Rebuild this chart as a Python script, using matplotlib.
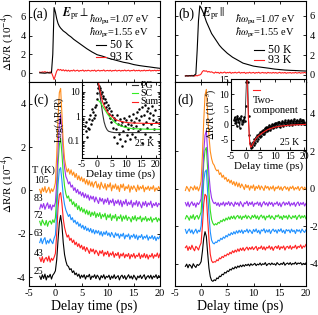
import numpy as np
import matplotlib
matplotlib.use("Agg")
import matplotlib.pyplot as plt
from matplotlib.ticker import NullFormatter

plt.rcParams["font.family"] = "serif"
plt.rcParams["font.serif"] = ["Liberation Serif", "DejaVu Serif"]
plt.rcParams["mathtext.fontset"] = "stix"
plt.rcParams["font.size"] = 7.5
plt.rcParams["axes.unicode_minus"] = False
plt.rcParams["axes.linewidth"] = 0.8
for ax_name in ["xtick", "ytick"]:
    plt.rcParams[ax_name + ".direction"] = "in"
    plt.rcParams[ax_name + ".major.size"] = 2.5
    plt.rcParams[ax_name + ".minor.size"] = 1.5
    plt.rcParams[ax_name + ".major.width"] = 0.6
    plt.rcParams[ax_name + ".labelsize"] = 7.5
    plt.rcParams[ax_name + ".major.pad"] = 2.5
plt.rcParams["xtick.top"] = True
plt.rcParams["ytick.right"] = True

# ---- data ----------------------------------------------------------------
# delay grid of the raw traces, -3 ps .. 20 ps in 0.25 ps steps
t_grid = np.arange(-3.0, 20.001, 0.25)

# (a)/(b) 50 K curves (smooth) on their own delay points
t_50k = [-3, -2, -1.5, -1, -0.75, -0.5, -0.25, 0, 0.25, 0.5, 0.75, 1, 1.5, 2, 2.5, 3,
         3.5, 4, 5, 6, 7, 8, 9, 10, 11, 12, 13, 14, 15, 16, 17, 18, 19, 20]
perp_50k = [0.02, -0.02, 0.03, 0.0, 0.05, 2.0, 7.0, 6.5, 5.8, 5.3, 5.0, 4.8, 4.5, 4.3, 4.05, 3.85,
            3.6, 3.4, 3.0, 2.6, 2.25, 1.95, 1.8, 1.6, 1.45, 1.3, 1.15, 1.05, 0.9, 0.8, 0.72, 0.65, 0.57, 0.5]
par_50k = [-0.1, -0.08, -0.1, 0.1, 2.5, 5.5, 7.0, 6.8, 6.5, 6.2, 5.8, 5.4, 4.8, 4.2, 3.8, 3.4,
           3.0, 2.7, 2.2, 1.8, 1.5, 1.2, 1.05, 0.9, 0.82, 0.75, 0.68, 0.6, 0.55, 0.5, 0.47, 0.45, 0.42, 0.4]

perp_93k = [0.1, 0.05, 0.12, 0.08, 0.15, 0.06, 0.1, 0.02, 0.12, 0.05, -0.3, -0.7,
            -0.25, 0.2, 0.4, 0.3, 0.38, 0.25, 0.35, 0.22, 0.32,
            0.2, 0.3, 0.18, 0.28, 0.22, 0.33, 0.2, 0.26, 0.3, 0.18,
            0.27, 0.24, 0.32, 0.19, 0.28, 0.22, 0.3, 0.25, 0.2, 0.29,
            0.23, 0.31, 0.18, 0.26, 0.3, 0.21, 0.27, 0.24, 0.33, 0.2,
            0.25, 0.28, 0.22, 0.3, 0.19, 0.27, 0.24, 0.31, 0.21, 0.26,
            0.29, 0.2, 0.28, 0.23, 0.32, 0.22, 0.26, 0.3, 0.2, 0.27,
            0.25, 0.33, 0.21, 0.28, 0.24, 0.3, 0.2, 0.27, 0.23, 0.31,
            0.22, 0.28, 0.25, 0.32, 0.21, 0.27, 0.24, 0.3, 0.22, 0.29,
            0.25, 0.3]
par_93k = [-0.1, -0.05, -0.12, -0.06, -0.1, -0.03, -0.08, -0.12, -0.04, -0.09, -0.02, 0.0,
           0.1, 0.35, 0.45, 0.38, 0.42, 0.3, 0.36, 0.28, 0.32,
           0.25, 0.18, 0.3, 0.22, 0.27, 0.16, 0.28, 0.2, 0.24, 0.3,
           0.19, 0.26, 0.22, 0.29, 0.17, 0.25, 0.21, 0.28, 0.2, 0.24,
           0.3, 0.18, 0.25, 0.22, 0.27, 0.16, 0.24, 0.2, 0.28, 0.19,
           0.23, 0.26, 0.17, 0.25, 0.21, 0.28, 0.18, 0.22, 0.26, 0.2,
           0.24, 0.17, 0.27, 0.21, 0.23, 0.19, 0.26, 0.2, 0.25, 0.18,
           0.22, 0.27, 0.19, 0.24, 0.2, 0.26, 0.17, 0.23, 0.21, 0.25,
           0.18, 0.24, 0.2, 0.27, 0.19, 0.22, 0.25, 0.18, 0.23, 0.21,
           0.26, 0.2]

temps = ["105", "83", "72", "63", "43", "25"]
colors = ["#ff8c1a", "#9933ee", "#33dd22", "#1e90ff", "#ff2020", "#000000"]
offsets_c = [0.0, -0.75, -1.5, -2.35, -3.2, -4.0]
offsets_d = [0.0, -0.85, -1.55, -2.3, -3.2, -4.15]

# (c) E_pr perpendicular, traces relative to their own offset
c_105 = [0.05, -0.15, 0.12, -0.05, 0.18, -0.1, 0.02, 0.15, -0.12, 0.08, -0.05, 0.1,
         0.35, 1.6, 3.3, 4.5, 4.7, 3.5, 2.2, 1.45, 1.1, 0.85, 1.0, 0.75, 0.95, 0.7, 0.85, 0.6,
         0.78, 0.5, 0.68, 0.45, 0.62, 0.4, 0.55, 0.3, 0.5, 0.25, 0.45, 0.2, 0.4, 0.15, 0.35, 0.42,
         0.12, 0.3, 0.05, 0.38, 0.2, 0.1, 0.32, 0.02, 0.28, 0.15, 0.35, -0.02, 0.25, 0.1, 0.3, 0.05,
         0.22, -0.05, 0.28, 0.12, 0.3, 0.0, 0.18, 0.08, 0.26, -0.08, 0.2, 0.05, 0.22, 0.1, -0.05, 0.25,
         0.02, 0.18, 0.08, 0.24, -0.06, 0.15, 0.05, 0.2, 0.0, 0.16, 0.06, 0.22, -0.04, 0.12, 0.02, 0.18,
         0.05]
c_83 = [-0.1, 0.12, -0.05, 0.15, -0.12, 0.05, 0.18, -0.08, 0.1, -0.15, 0.08, 0.0,
        0.2, 1.1, 2.6, 3.8, 4.25, 3.6, 2.5, 1.8, 1.4, 1.25, 1.05, 1.15, 0.9, 1.0, 0.75, 0.88,
        0.65, 0.8, 0.58, 0.7, 0.5, 0.66, 0.42, 0.6, 0.4, 0.55, 0.3, 0.5, 0.35, 0.48, 0.22, 0.45,
        0.3, 0.15, 0.42, 0.25, 0.38, 0.12, 0.35, 0.2, 0.4, 0.1, 0.3, 0.18, 0.36, 0.05, 0.28, 0.15,
        0.32, 0.08, 0.3, 0.0, 0.25, 0.12, 0.34, 0.05, 0.22, 0.1, 0.3, -0.02, 0.2, 0.08, 0.28, 0.02,
        0.24, 0.1, -0.05, 0.22, 0.06, 0.25, 0.0, 0.18, 0.08, 0.26, -0.04, 0.15, 0.05, 0.2, 0.0, 0.16,
        0.1]
c_72 = [0.08, -0.12, 0.15, 0.0, -0.1, 0.12, -0.15, 0.05, 0.1, -0.05, 0.15, 0.02,
        0.25, 1.2, 2.7, 3.6, 3.9, 3.2, 2.3, 1.7, 1.35, 1.15, 1.25, 1.0, 1.1, 0.85, 0.98, 0.75,
        0.9, 0.62, 0.8, 0.55, 0.72, 0.5, 0.65, 0.42, 0.6, 0.38, 0.55, 0.3, 0.5, 0.35, 0.52, 0.25,
        0.45, 0.3, 0.48, 0.2, 0.4, 0.28, 0.45, 0.15, 0.38, 0.25, 0.42, 0.12, 0.35, 0.22, 0.4, 0.1,
        0.3, 0.2, 0.38, 0.08, 0.32, 0.18, 0.36, 0.12, 0.28, 0.22, 0.05, 0.3, 0.15, 0.34, 0.1, 0.26,
        0.18, 0.32, 0.06, 0.24, 0.14, 0.3, 0.08, 0.22, 0.12, 0.28, 0.04, 0.2, 0.16, 0.26, 0.06, 0.22,
        0.12]
c_63 = [-0.05, 0.15, -0.1, 0.08, 0.18, -0.12, 0.05, -0.08, 0.12, 0.0, -0.1, 0.15,
        0.3, 1.3, 2.6, 3.3, 3.4, 2.8, 2.1, 1.7, 1.45, 1.3, 1.15, 1.25, 1.0, 1.1, 0.88, 0.98,
        0.8, 0.9, 0.7, 0.82, 0.62, 0.75, 0.55, 0.7, 0.5, 0.62, 0.45, 0.6, 0.4, 0.55, 0.35, 0.52,
        0.38, 0.5, 0.3, 0.46, 0.25, 0.44, 0.32, 0.48, 0.28, 0.4, 0.22, 0.42, 0.3, 0.18, 0.4, 0.26,
        0.36, 0.15, 0.34, 0.24, 0.38, 0.12, 0.3, 0.22, 0.35, 0.1, 0.28, 0.2, 0.34, 0.14, 0.3, 0.08,
        0.26, 0.18, 0.32, 0.1, 0.24, 0.16, 0.3, 0.06, 0.22, 0.14, 0.28, 0.1, 0.24, 0.04, 0.2, 0.12,
        0.26]
c_43 = [0.1, -0.08, 0.15, -0.12, 0.05, 0.12, -0.05, 0.18, -0.1, 0.08, -0.02, 0.12,
        0.3, 1.2, 2.4, 3.0, 3.1, 2.6, 1.9, 1.5, 1.25, 1.05, 1.15, 0.9, 1.0, 0.8, 0.92, 0.7,
        0.82, 0.62, 0.75, 0.55, 0.68, 0.48, 0.62, 0.4, 0.58, 0.45, 0.3, 0.52, 0.38, 0.5, 0.28, 0.45,
        0.35, 0.2, 0.42, 0.3, 0.44, 0.18, 0.36, 0.25, 0.4, 0.15, 0.32, 0.22, 0.38, 0.12, 0.3, 0.2,
        0.35, 0.08, 0.28, 0.18, 0.32, 0.1, 0.26, 0.16, 0.3, 0.05, 0.25, 0.14, 0.3, 0.08, 0.22, 0.16,
        0.32, 0.06, 0.24, 0.12, 0.3, 0.1, 0.26, 0.04, 0.22, 0.14, 0.3, 0.08, 0.24, 0.16, 0.32, 0.1,
        0.28]
c_25 = [0.05, -0.1, 0.12, -0.05, 0.15, -0.12, 0.08, 0.0, 0.14, -0.08, 0.1, 0.18,
        0.3, 0.8, 1.7, 2.5, 2.85, 2.4, 1.6, 1.05, 0.75, 0.55, 0.5, 0.35, 0.4, 0.22, 0.3, 0.12,
        0.2, 0.05, 0.15, -0.05, 0.1, 0.0, 0.12, -0.08, 0.08, 0.02, 0.14, -0.1, 0.06, 0.0, 0.12, -0.06,
        0.1, 0.02, -0.12, 0.08, -0.02, 0.12, -0.08, 0.05, 0.0, 0.1, -0.1, 0.06, -0.04, 0.12, -0.06, 0.02,
        0.08, -0.12, 0.04, 0.1, -0.05, 0.08, -0.1, 0.02, 0.12, -0.04, 0.06, -0.08, 0.1, 0.0, -0.12, 0.06,
        -0.02, 0.1, -0.06, 0.04, 0.12, -0.1, 0.02, 0.08, -0.04, 0.1, -0.08, 0.06, 0.0, 0.12, -0.06, 0.08,
        0.02]

# (d) E_pr parallel
d_105 = [-0.1, 0.12, 0.0, -0.15, 0.1, 0.05, -0.08, 0.15, -0.05, 0.1, -0.12, 0.08,
         0.4, 1.8, 3.6, 5.0, 5.3, 4.0, 2.8, 2.0, 1.6, 1.35, 1.25, 1.05, 0.95, 1.0, 0.75, 0.85,
         0.6, 0.72, 0.5, 0.6, 0.38, 0.5, 0.3, 0.45, 0.22, 0.38, 0.15, 0.35, 0.1, 0.3, 0.05, 0.25,
         0.12, -0.05, 0.22, 0.05, 0.18, -0.08, 0.15, 0.02, 0.2, -0.1, 0.12, 0.0, 0.18, -0.06, 0.14, 0.04,
         -0.1, 0.16, 0.02, 0.12, -0.08, 0.1, -0.02, 0.15, -0.12, 0.08, 0.0, 0.14, -0.06, 0.1, -0.1, 0.06,
         0.12, -0.04, 0.08, -0.12, 0.1, 0.0, 0.14, -0.08, 0.06, -0.02, 0.12, -0.1, 0.04, 0.1, -0.06, 0.08,
         -0.02]
d_83 = [0.1, -0.08, 0.14, -0.12, 0.05, 0.15, -0.05, 0.08, -0.14, 0.1, 0.0, 0.12,
        0.3, 1.3, 2.8, 3.7, 3.95, 2.8, 1.6, 0.8, 0.35, 0.15, 0.05, 0.12, -0.05, 0.1, -0.1, 0.08,
        -0.02, 0.14, -0.08, 0.1, 0.0, 0.16, -0.06, 0.12, 0.02, -0.1, 0.14, 0.0, 0.1, -0.08, 0.16, 0.02,
        -0.12, 0.1, 0.04, 0.18, -0.06, 0.12, 0.0, 0.15, -0.1, 0.08, 0.02, 0.14, -0.05, 0.12, -0.12, 0.06,
        0.16, -0.02, 0.1, -0.08, 0.14, 0.0, 0.12, -0.1, 0.08, 0.02, 0.15, -0.06, 0.1, -0.12, 0.06, 0.14,
        -0.04, 0.1, 0.0, 0.16, -0.08, 0.08, -0.02, 0.12, -0.1, 0.06, 0.14, -0.06, 0.1, 0.0, 0.12, -0.08,
        0.06]
d_72 = [-0.06, 0.12, 0.02, -0.14, 0.1, -0.04, 0.16, -0.1, 0.06, 0.12, -0.08, 0.1,
        0.3, 1.4, 2.9, 3.6, 3.75, 2.6, 1.3, 0.4, -0.1, -0.3, -0.4, -0.32, -0.38, -0.25, -0.3, -0.15,
        -0.22, -0.08, -0.18, -0.02, -0.12, 0.04, -0.1, 0.08, -0.05, 0.1, -0.08, 0.06, 0.12, -0.04, 0.1, -0.1,
        0.08, 0.0, 0.14, -0.06, 0.1, 0.02, -0.08, 0.12, 0.0, 0.15, -0.05, 0.1, -0.1, 0.06, 0.14, -0.02,
        0.1, -0.12, 0.08, 0.02, 0.14, -0.06, 0.1, 0.0, -0.1, 0.12, 0.04, 0.15, -0.04, 0.08, -0.1, 0.12,
        0.0, 0.1, -0.08, 0.14, 0.02, -0.06, 0.1, 0.0, 0.12, -0.1, 0.06, 0.14, -0.04, 0.1, 0.0, 0.12,
        -0.06]
d_63 = [0.12, -0.1, 0.05, 0.15, -0.06, 0.1, -0.12, 0.02, 0.14, -0.08, 0.08, 0.0,
        0.3, 1.3, 2.7, 3.2, 3.3, 2.1, 0.9, 0.0, -0.45, -0.6, -0.65, -0.55, -0.58, -0.45, -0.5, -0.35,
        -0.42, -0.28, -0.35, -0.2, -0.28, -0.12, -0.2, -0.05, -0.15, 0.0, -0.12, 0.05, -0.08, 0.08, -0.05, 0.1,
        -0.1, 0.06, 0.0, 0.14, -0.06, 0.1, 0.02, -0.1, 0.12, 0.0, 0.15, -0.05, 0.08, -0.12, 0.1, 0.04,
        0.16, -0.06, 0.1, -0.02, 0.12, -0.1, 0.06, 0.14, 0.0, 0.1, -0.08, 0.12, 0.02, 0.16, -0.04, 0.08,
        -0.1, 0.12, 0.04, 0.1, -0.06, 0.14, 0.0, 0.08, -0.1, 0.12, 0.02, 0.1, -0.06, 0.14, 0.04, -0.04,
        0.1]
d_43 = [0.05, 0.15, -0.1, 0.1, -0.05, 0.18, 0.0, -0.12, 0.12, 0.04, -0.08, 0.14,
        0.3, 1.2, 2.4, 2.9, 2.8, 1.6, 0.5, -0.3, -0.65, -0.75, -0.7, -0.72, -0.6, -0.65, -0.5, -0.55,
        -0.42, -0.48, -0.35, -0.4, -0.28, -0.34, -0.2, -0.28, -0.12, -0.22, -0.08, -0.18, -0.02, -0.15, 0.02, -0.1,
        0.05, -0.12, 0.0, 0.08, -0.08, 0.06, -0.04, 0.1, -0.06, 0.04, 0.12, -0.1, 0.06, 0.0, 0.14, -0.05,
        0.1, -0.08, 0.08, 0.02, 0.15, -0.04, 0.1, -0.1, 0.06, 0.12, 0.0, 0.16, -0.06, 0.1, 0.02, 0.14,
        -0.08, 0.08, 0.12, 0.0, 0.16, -0.04, 0.1, 0.04, 0.18, -0.02, 0.12, 0.06, 0.2, 0.0, 0.14, 0.08,
        0.22]
d_25 = [0.0, 0.12, -0.08, 0.1, 0.04, -0.1, 0.14, 0.02, -0.06, 0.1, 0.05, 0.12,
        0.25, 0.8, 1.5, 1.85, 1.6, 0.7, -0.1, -0.55, -0.75, -0.8, -0.72, -0.76, -0.62, -0.66, -0.52, -0.55,
        -0.42, -0.45, -0.32, -0.36, -0.24, -0.28, -0.15, -0.2, -0.08, -0.14, -0.02, -0.1, 0.02, -0.05, 0.06, -0.02,
        0.08, 0.0, 0.1, 0.04, 0.12, 0.02, 0.14, 0.06, 0.1, 0.16, 0.04, 0.12, 0.08, 0.18, 0.06, 0.14,
        0.1, 0.2, 0.04, 0.12, 0.16, 0.08, 0.18, 0.1, 0.14, 0.06, 0.2, 0.12, 0.08, 0.16, 0.1, 0.22,
        0.06, 0.14, 0.18, 0.1, 0.2, 0.08, 0.16, 0.12, 0.22, 0.1, 0.18, 0.14, 0.2, 0.08, 0.16, 0.12,
        0.18]

traces_c = [c_105, c_83, c_72, c_63, c_43, c_25]
traces_d = [d_105, d_83, d_72, d_63, d_43, d_25]

# inset (c): 25 K data on log scale with the two-component fit
t_ins = np.arange(-4.0, 20.001, 0.25)
ins_c_data = [0.4, 0.25, 0.6, 0.15, 0.35, 0.8, 0.3, 1.2, 0.5, 2.0, 0.7, 1.5, 0.9, 2.5, 1.1, 3.0,
              5.0, 9.0, 15, 18, 12, 14, 8, 10, 5.5, 7.0, 3.5, 5.0, 2.5, 4.0, 1.8, 3.0, 1.3, 2.2, 0.9, 1.6,
              0.6, 1.2, 0.35, 0.9, 0.15, 0.7, 0.3, 1.1, 0.08, 0.5, 0.2, 0.8, 0.12, 0.45, 0.06, 0.6, 0.25, 0.9, 0.1, 0.4,
              0.7, 0.18, 0.5, 0.3, 1.0, 0.12, 0.45, 0.7, 0.2, 1.3, 0.35, 0.6, 0.15, 0.9, 0.4, 1.5, 0.25, 0.7, 2.0, 0.3,
              1.0, 0.08, 2.5, 0.5, 1.2, 0.2, 3.0, 0.6, 1.6, 0.35, 2.2, 0.9, 0.15, 1.4, 0.5, 2.8, 0.7, 1.1, 0.3, 1.8,
              0.6]
t_fit_c = [0.5, 0.75, 1.0, 1.25, 1.5, 2.0, 2.5, 3.0, 3.5, 4.0, 5.0, 6.0, 7.0, 8.0, 10.0, 12.0, 15.0, 18.0, 21.5]
fit_pg = [25, 15, 9.0, 5.6, 3.5, 1.3, 0.6, 0.38, 0.29, 0.25, 0.23, 0.22, 0.22, 0.22, 0.22, 0.22, 0.22, 0.22, 0.22]
fit_sc = [4.5, 4.3, 4.0, 3.6, 3.3, 2.6, 2.1, 1.7, 1.35, 1.1, 0.8, 0.6, 0.48, 0.42, 0.35, 0.32, 0.31, 0.3, 0.3]
fit_sum = [29, 19, 13, 9.2, 6.8, 3.9, 2.7, 2.1, 1.65, 1.35, 1.03, 0.82, 0.7, 0.64, 0.57, 0.54, 0.53, 0.52, 0.52]

# inset (d): 25 K data (10^-5) with the two-component fit
ins_d_data = [1.5, 2.5, 0.5, 2.0, -0.5, 3.0, 1.0, 2.2, -1.0, 1.8, 2.8, 0.2, 1.5, 0.8, 2.6, 1.2,
              6, 14, 20, 14, 3, -3.5, -6.0, -7.6, -6.8, -7.2, -5.8, -6.6, -4.8, -5.9, -4.2, -5.2, -3.5, -4.6, -3.0, -4.2,
              -2.5, -3.8, -2.0, -3.2, -1.6, -3.0, -1.2, -2.4, -0.8, -2.2, -0.6, -1.8, -0.2, -1.6, -0.4, -1.2, 0.2, -1.0, 0.1, -0.9,
              0.4, -0.8, 0.6, -0.5, 0.8, -0.3, 1.0, -0.6, 0.7, 0.0, 1.2, -0.4, 0.9, 0.2, 1.4, -0.2, 1.0, 0.3, 1.5, 0.0,
              1.2, 0.4, 1.6, -0.1, 1.1, 0.5, 1.8, 0.2, 1.3, 0.6, 1.7, 0.1, 1.2, 0.7, 1.9, 0.3, 1.4, 0.5, 1.6, 0.4,
              1.0]
t_fit_d = [0.45, 0.6, 0.8, 1.0, 1.25, 1.5, 1.75, 2.0, 2.5, 3.0, 3.5, 4.0, 5.0, 6.0, 7.0, 8.0, 10.0, 12.0, 15.0, 18.0, 20.5]
fit_two = [16, 12, 6, 1.0, -3.8, -6.6, -7.4, -7.2, -6.3, -5.3, -4.6, -4.0, -3.2, -2.5, -1.9, -1.4, -0.8, -0.45, -0.15, 0.0, 0.1]

# ---- figure --------------------------------------------------------------
fig = plt.figure(figsize=(3.18, 3.15), dpi=100)
ax_a = fig.add_axes([0.092, 0.740, 0.411, 0.257])
ax_b = fig.add_axes([0.550, 0.740, 0.412, 0.257])
ax_c = fig.add_axes([0.092, 0.092, 0.411, 0.648])
ax_d = fig.add_axes([0.550, 0.092, 0.412, 0.648])

ylab = r"$\Delta$R/R (10$^{-4}$)"
lw = 0.8


def top_panel(ax, t50, y50, y93, label, pol, text_x, leg_x, leg_y):
    ax.plot(t_grid[:len(y93)], y93, color="#ff2020", lw=lw)
    ax.plot(t50, y50, color="k", lw=lw)
    ax.set_xlim(-5, 20)
    ax.set_xticks([-5, 0, 5, 10, 15, 20])
    ax.set_xticklabels([])
    ax.set_yticks([0, 2, 4, 6])
    ax.text(0.025, 0.83, label, transform=ax.transAxes, fontsize=10, va="center")
    ax.text(text_x, 0.84, pol, transform=ax.transAxes, fontsize=8.5, va="center")
    ax.text(0.46, 0.76, r"$\hbar\omega_{\rm pu}$=1.07 eV", transform=ax.transAxes, fontsize=7.5, va="center")
    ax.text(0.46, 0.60, r"$\hbar\omega_{\rm pr}$=1.55 eV", transform=ax.transAxes, fontsize=7.5, va="center")
    for yy, c, s in zip(leg_y, ["k", "#ff2020"], ["50 K", "93 K"]):
        ax.plot([leg_x, leg_x + 0.08], [yy, yy], color=c, lw=lw, transform=ax.transAxes)
        ax.text(leg_x + 0.11, yy, s, transform=ax.transAxes, fontsize=8.5, va="center")


top_panel(ax_a, t_50k, perp_50k, perp_93k, "(a)", r"$\mathbfit{E}_{\rm pr}\perp$", 0.25, 0.51, [0.45, 0.31])
ax_a.set_ylim(-0.95, 7.7)
ax_a.set_ylabel(ylab, fontsize=8)
ax_a.yaxis.set_label_coords(-0.1, 0.5)

top_panel(ax_b, t_50k, par_50k, par_93k, "(b)", r"$\mathbfit{E}_{\rm pr}\,||$", 0.21, 0.60, [0.40, 0.27])
ax_b.set_ylim(-0.7, 7.5)
ax_b.yaxis.tick_right()
ax_b.yaxis.set_ticks_position("both")
ax_b.tick_params(axis="y", labelleft=False, labelright=True)

for ax, traces, offs in [(ax_c, traces_c, offsets_c), (ax_d, traces_d, offsets_d)]:
    for y, off, col in zip(traces[::-1], offs[::-1], colors[::-1]):
        ax.plot(t_grid[:len(y)], np.array(y) + off, color=col, lw=lw)
    ax.set_xlim(-5, 20)
    ax.set_xticks([-5, 0, 5, 10, 15, 20])
    ax.set_xlabel("Delay time (ps)", fontsize=10, labelpad=1)

ax_c.set_ylim(-4.4, 5.0)
ax_c.set_yticks([-4, -2, 0, 2, 4])
ax_c.set_ylabel(ylab, fontsize=8)
ax_c.yaxis.set_label_coords(-0.1, 0.5)
ax_c.text(0.03, 0.91, "(c)", transform=ax_c.transAxes, fontsize=10, va="center")
ax_c.text(0.02, 0.565, "T (K)", transform=ax_c.transAxes, fontsize=7.5, va="center")
lab_y = [0.517, 0.43, 0.345, 0.255, 0.16, 0.07]
for s, yy in zip(temps, lab_y):
    ax_c.text(0.035, yy, s, transform=ax_c.transAxes, fontsize=7, va="center")

ax_d.set_ylim(-5.2, 5.7)
ax_d.set_yticks([-4, -2, 0, 2, 4])
ax_d.yaxis.tick_right()
ax_d.yaxis.set_ticks_position("both")
ax_d.tick_params(axis="y", labelleft=False, labelright=True)
ax_d.text(0.02, 0.91, "(d)", transform=ax_d.transAxes, fontsize=10, va="center")

# inset (c)
ins_c = fig.add_axes([0.258, 0.498, 0.245, 0.241])
ins_c.plot(t_ins[:len(ins_c_data)], ins_c_data, "k.", ms=1.6)
ins_c.plot(t_fit_c, fit_pg, color="#333333", lw=lw)
ins_c.plot(t_fit_c, fit_sc, color="#33ee22", lw=lw)
ins_c.plot(t_fit_c, fit_sum, color="#ff2020", lw=lw)
ins_c.set_yscale("log")
ins_c.set_xlim(-5, 21.5)
ins_c.set_ylim(0.02, 25)
ins_c.set_xticks([-5, 0, 5, 10, 15, 20])
ins_c.set_yticks([0.1, 1, 10])
ins_c.set_yticklabels(["0.1", "1", "10"])
ins_c.yaxis.set_minor_formatter(NullFormatter())
ins_c.tick_params(labelsize=7, pad=1.5)
ins_c.set_xlabel("Delay time (ps)", fontsize=8, labelpad=0)
ins_c.set_ylabel(r"Log($\Delta$R/R)", fontsize=7, labelpad=1)
for yy, c, s in zip([0.96, 0.855, 0.745], ["#333333", "#33ee22", "#ff2020"], ["PG", "SC", "Sum"]):
    ins_c.plot([0.64, 0.72], [yy, yy], color=c, lw=lw, transform=ins_c.transAxes)
    ins_c.text(0.75, yy, s, transform=ins_c.transAxes, fontsize=7, va="center")
ins_c.text(0.68, 0.19, "25 K", transform=ins_c.transAxes, fontsize=7, va="center")

# inset (d)
ins_d = fig.add_axes([0.726, 0.524, 0.236, 0.225])
ins_d.plot(t_ins[:len(ins_d_data)], ins_d_data, color="k", lw=0.5, marker=".", ms=1.6)
ins_d.plot(t_fit_d, fit_two, color="#ff2020", lw=lw)
ins_d.set_xlim(-5, 20.5)
ins_d.set_ylim(-8.3, 15)
ins_d.set_xticks([-5, 0, 5, 10, 15, 20])
ins_d.set_yticks([-5, 0, 5, 10, 15])
ins_d.tick_params(labelsize=7, pad=1.5)
ins_d.set_xlabel("Delay time (ps)", fontsize=8, labelpad=0)
ins_d.set_ylabel(r"$\Delta$R/R (10$^{-5}$)", fontsize=7, labelpad=0)
ins_d.plot([0.29, 0.39], [0.85, 0.85], color="#ff2020", lw=lw, transform=ins_d.transAxes)
ins_d.text(0.29, 0.70, "Two-", transform=ins_d.transAxes, fontsize=7.5, va="center")
ins_d.text(0.29, 0.56, "component", transform=ins_d.transAxes, fontsize=7.5, va="center")
ins_d.text(0.66, 0.1, "25 K", transform=ins_d.transAxes, fontsize=7, va="center")

fig.savefig("out.png", dpi=100)
